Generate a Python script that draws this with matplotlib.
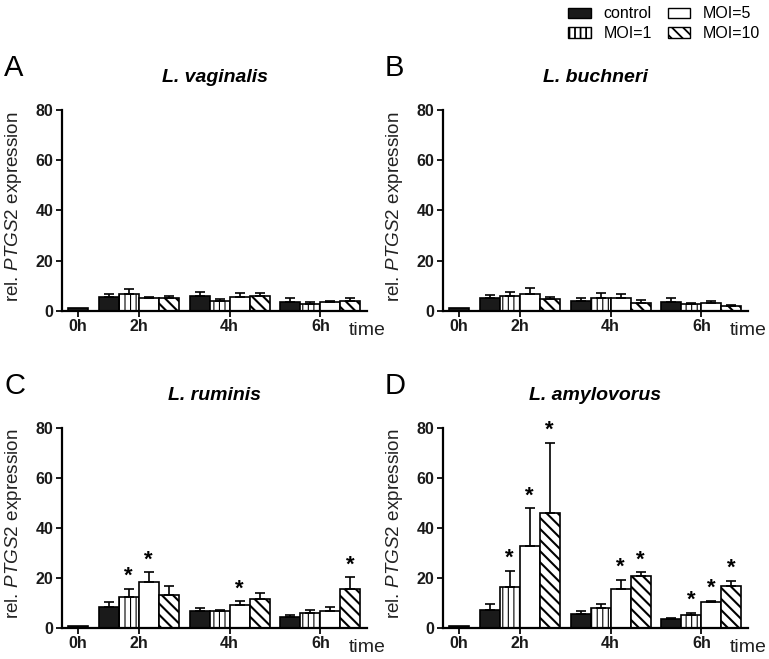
import matplotlib
matplotlib.use("Agg")
import matplotlib.pyplot as plt
from matplotlib.patches import Patch
import numpy as np

plt.rcParams.update({
    "font.family": ["Liberation Sans", "DejaVu Sans"],
    "mathtext.fontset": "custom",
    "mathtext.rm": "Liberation Sans",
    "mathtext.it": "Liberation Sans:italic",
    "hatch.linewidth": 1.3,
    "axes.linewidth": 1.6,
})

# ---- data ----
times = ["2h", "4h", "6h"]
conditions = ["control", "MOI=1", "MOI=5", "MOI=10"]
zero_h = [1.0, 1.0, 1.0, 1.0]          # control at 0h, panels A-D

# rows = condition, cols = 2h/4h/6h
vag_mean = [[5.6, 6.0, 3.7], [6.9, 4.1, 2.9], [5.2, 5.6, 3.5], [5.3, 6.0, 4.1]]
vag_sd = [[1.3, 1.5, 1.4], [2.0, 0.7, 0.7], [0.4, 1.5, 0.6], [0.8, 1.2, 1.1]]

buc_mean = [[5.1, 3.9, 3.7], [5.8, 5.0, 2.9], [6.8, 5.3, 3.0], [4.9, 3.3, 2.1]]
buc_sd = [[1.1, 1.2, 1.4], [1.7, 2.1, 0.4], [2.3, 1.3, 0.9], [0.6, 1.2, 0.4]]

rum_mean = [[8.4, 6.7, 4.4], [12.3, 6.7, 6.0], [18.4, 9.3, 6.9], [13.3, 11.6, 15.6]]
rum_sd = [[2.0, 1.3, 0.9], [3.4, 0.4, 1.1], [3.9, 1.4, 1.4], [3.4, 2.4, 4.7]]

amy_mean = [[7.3, 5.6, 3.6], [16.6, 8.2, 5.3], [32.8, 15.6, 10.5], [45.9, 20.9, 16.9]]
amy_sd = [[2.3, 1.2, 0.3], [6.4, 1.4, 0.7], [15.1, 3.7, 0.5], [28.3, 1.4, 1.9]]

# significance marks: (time index, condition index)
rum_stars = [(0, 1), (0, 2), (1, 2), (2, 3)]
amy_stars = [(0, 1), (0, 2), (0, 3), (1, 2), (1, 3), (2, 1), (2, 2), (2, 3)]

panels = [
    ("A", "L. vaginalis", vag_mean, vag_sd, [], zero_h[0]),
    ("B", "L. buchneri", buc_mean, buc_sd, [], zero_h[1]),
    ("C", "L. ruminis", rum_mean, rum_sd, rum_stars, zero_h[2]),
    ("D", "L. amylovorus", amy_mean, amy_sd, amy_stars, zero_h[3]),
]

styles = [
    dict(facecolor="#1a1a1a", hatch=None),
    dict(facecolor="white", hatch="|||"),
    dict(facecolor="white", hatch=None),
    dict(facecolor="white", hatch="\\\\\\"),
]
hatch_lw = [1.0, 0.8, 1.0, 1.5]


def set_hlw(patch, lw):
    if hasattr(patch, "set_hatch_linewidth"):
        patch.set_hatch_linewidth(lw)


W, H = 769, 659
fig = plt.figure(figsize=(W / 100, H / 100), dpi=100)
rects = [
    (62, 110, 367, 311),
    (443, 110, 748, 311),
    (62, 428, 367, 628),
    (443, 428, 748, 628),
]

x0h = 0.78
centers = np.array([3.83, 8.38, 12.92])
offsets = np.array([-1.5, -0.5, 0.5, 1.5])

for (letter, title, mean, sd, stars, v0), (l, t, r, b) in zip(panels, rects):
    ax = fig.add_axes([l / W, 1 - b / H, (r - l) / W, (b - t) / H])
    ax.bar(x0h, v0, width=1.0, color="#1a1a1a", edgecolor="black", lw=1.2, zorder=2)
    for ci in range(4):
        xs = centers + offsets[ci]
        bars = ax.bar(xs, mean[ci], width=1.0, edgecolor="black", lw=1.2, zorder=2,
                      **styles[ci])
        for p in bars:
            set_hlw(p, hatch_lw[ci])
        ax.errorbar(xs, mean[ci], yerr=[np.zeros(3), sd[ci]], fmt="none",
                    ecolor="black", elinewidth=1.2, capsize=3.6, capthick=1.2, zorder=3)
    for ti, ci in stars:
        ax.annotate("*", xy=(centers[ti] + offsets[ci], mean[ci][ti] + sd[ci][ti]),
                    xytext=(0, 5), textcoords="offset points", ha="center",
                    va="baseline", fontsize=16, fontweight="bold")
    ax.set_xlim(0, 15.25)
    ax.set_ylim(0, 80)
    ax.set_yticks([0, 20, 40, 60, 80])
    ax.set_xticks([x0h] + list(centers))
    ax.set_xticklabels(["0h"] + times)
    for lab in ax.get_xticklabels() + ax.get_yticklabels():
        lab.set_fontweight("bold")
        lab.set_fontsize(11.5)
    ax.tick_params(axis="both", length=4, width=1.4, pad=2, colors="#1a1a1a")
    for s in ("top", "right"):
        ax.spines[s].set_visible(False)
    ax.set_ylabel(r"rel. $\mathit{PTGS2}$ expression", fontsize=13.6, color="#222222")
    ax.yaxis.set_label_coords(-0.125, 0.52)
    ax.text(1.0, -0.095, "time", transform=ax.transAxes, ha="center",
            va="center", fontsize=14, color="#222222")
    ax.text(0.5, 1.0 + 33 / (b - t), title, transform=ax.transAxes, ha="center",
            va="center", fontsize=14, fontweight="bold", fontstyle="italic")
    ax.text(-58 / (r - l), 1.0 + 42 / (b - t), letter, transform=ax.transAxes,
            ha="left", va="center", fontsize=21)

handles = []
for st, hl in zip(styles, hatch_lw):
    h = Patch(edgecolor="black", lw=1.0, **st)
    set_hlw(h, hl)
    handles.append(h)
fig.legend(handles, conditions, ncol=2, loc="upper right", bbox_to_anchor=(0.997, 1.0),
           frameon=False, fontsize=11.5, handlelength=1.4, handleheight=0.6,
           handletextpad=0.8, columnspacing=1.0, labelspacing=0.3,
           borderaxespad=0.2, borderpad=0.2)

fig.savefig("out.png", dpi=100, facecolor="white")
